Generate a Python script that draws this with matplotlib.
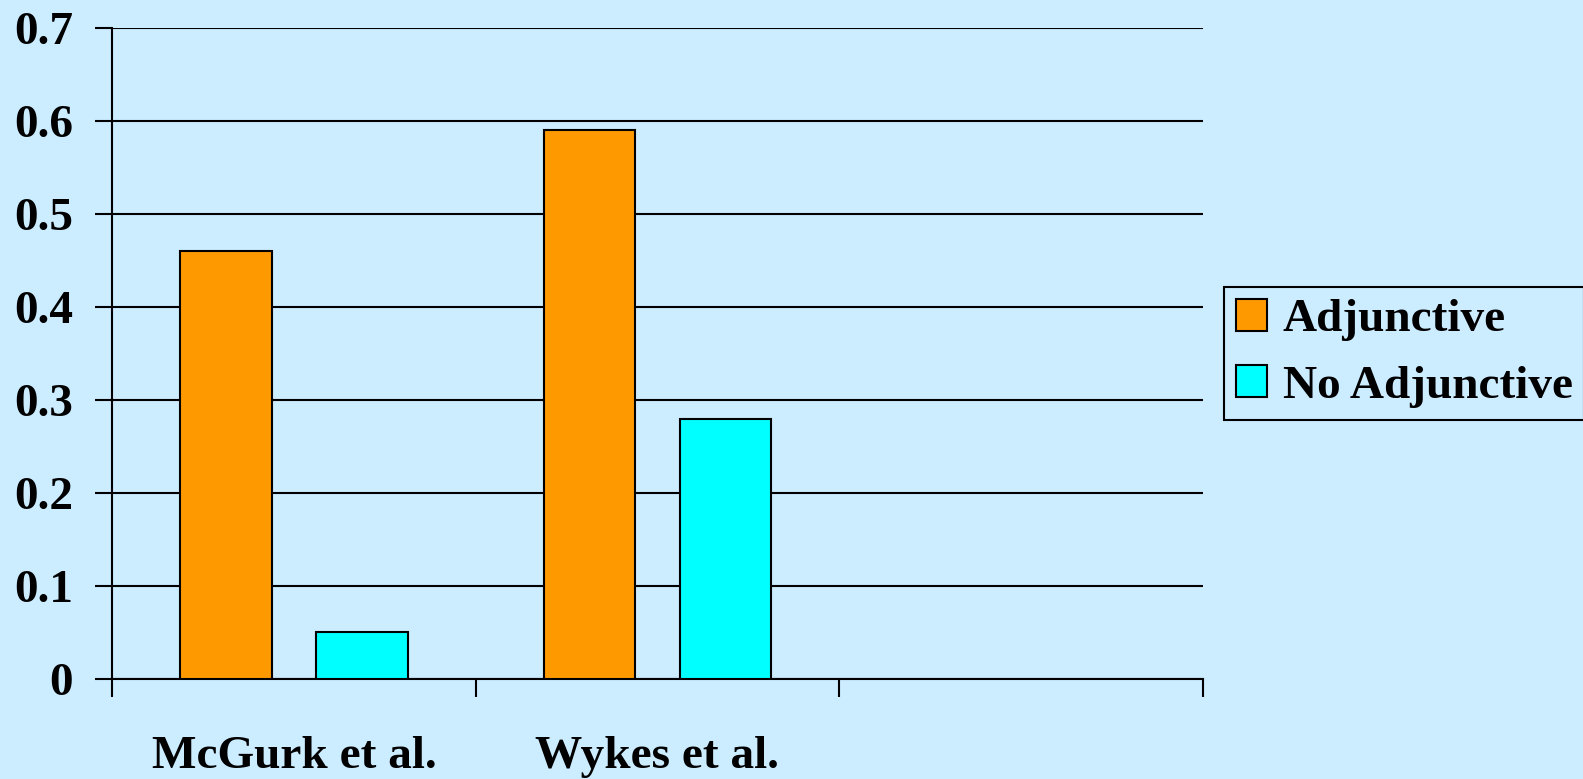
import numpy as np
import matplotlib.pyplot as plt

# data
categories = ["McGurk et al.", "Wykes et al.", ""]
series_names = ["Adjunctive", "No Adjunctive"]
adjunctive = [0.46, 0.59]
no_adjunctive = [0.05, 0.28]
y_ticks = [0, 0.1, 0.2, 0.3, 0.4, 0.5, 0.6, 0.7]
y_labels = ["0", "0.1", "0.2", "0.3", "0.4", "0.5", "0.6", "0.7"]

BG = "#CCECFF"
ORANGE = "#FF9900"
CYAN = "#00FFFF"

plt.rcParams["font.family"] = ["Liberation Serif", "DejaVu Serif"]
plt.rcParams["font.weight"] = "bold"

fig = plt.figure(figsize=(15.83, 7.79), dpi=100, facecolor=BG)
ax = fig.add_axes([0.0708, 0.1284, 0.6891, 0.8357], facecolor=BG)

n_slots = len(categories)
x = np.arange(len(adjunctive))
w = 0.252
off = 0.187
b1 = ax.bar(x - off, adjunctive, w, color=ORANGE, edgecolor="black", linewidth=1.5,
            label=series_names[0], zorder=3)
b2 = ax.bar(x + off, no_adjunctive, w, color=CYAN, edgecolor="black", linewidth=1.5,
            label=series_names[1], zorder=3)

ax.set_xlim(-0.5, n_slots - 0.5)
ax.set_ylim(0, 0.7)

# y axis: outward ticks + horizontal grid
ax.set_yticks(y_ticks)
ax.set_yticklabels(y_labels, fontsize=34, fontweight="bold")
ax.tick_params(axis="y", direction="out", length=12, width=1.5, pad=16)
ax.yaxis.grid(True, color="black", linewidth=1.5, zorder=1)

# x axis: ticks at slot boundaries, labels in slot centres
ax.set_xticks(np.arange(-0.5, n_slots, 1.0))
ax.set_xticklabels([])
ax.tick_params(axis="x", which="major", direction="out", length=13, width=1.5)
ax.set_xticks(np.arange(n_slots), minor=True)
ax.set_xticklabels(categories, minor=True, fontsize=34, fontweight="bold")
ax.tick_params(axis="x", which="minor", length=0, pad=41)

for s in ["top", "right"]:
    ax.spines[s].set_visible(False)
for s in ["left", "bottom"]:
    ax.spines[s].set_linewidth(1.5)

leg = fig.legend(handles=[b1, b2], loc="upper left",
                 bbox_to_anchor=(1224 / 1583, 1 - 287 / 779),
                 prop={"size": 34, "weight": "bold"},
                 frameon=True, fancybox=False, facecolor=BG, edgecolor="black",
                 framealpha=1, handlelength=0.66, handleheight=0.66,
                 handletextpad=0.33, borderpad=0.25, labelspacing=0.51,
                 borderaxespad=0)
leg.get_frame().set_linewidth(1.5)

fig.savefig("out.png", dpi=100, facecolor=BG)
